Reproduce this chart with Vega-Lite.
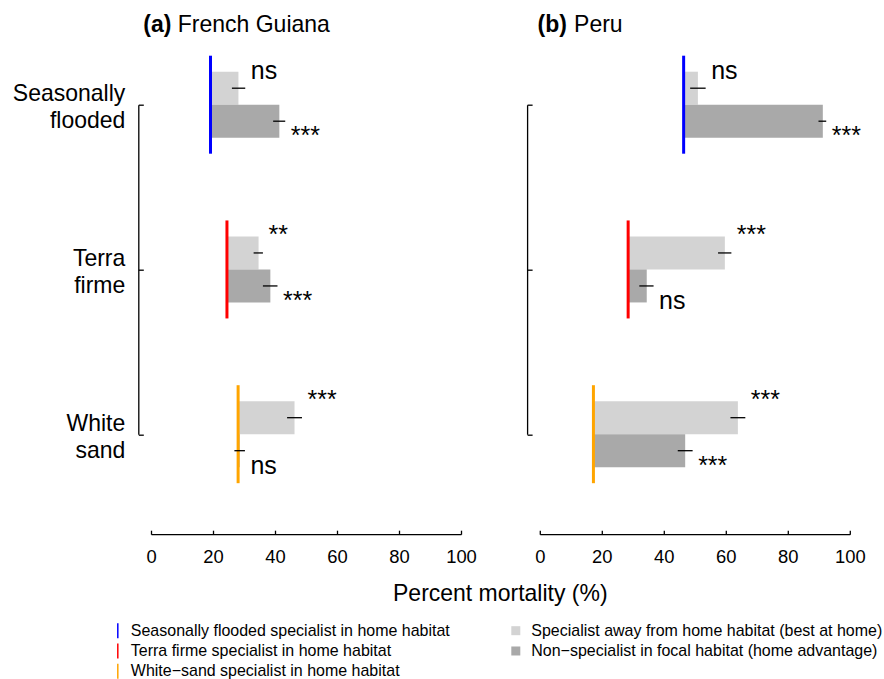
{
  "$schema": "https://vega.github.io/schema/vega-lite/v6.json",
  "background": "white",
  "padding": {"left": 12, "top": 13.7, "right": 0, "bottom": 0},
  "bounds": "flush",
  "spacing": 78.8,
  "datasets": {
    "bars": [
      {"country": "French Guiana", "habitat": "Seasonally flooded", "group": "away", "home": 19.2, "mean": 28.2, "lo": 26.1, "hi": 30.4, "sig": "ns"},
      {"country": "French Guiana", "habitat": "Seasonally flooded", "group": "nonspecialist", "home": 19.2, "mean": 41.4, "lo": 39.4, "hi": 43.3, "sig": "***"},
      {"country": "French Guiana", "habitat": "Terra firme", "group": "away", "home": 24.5, "mean": 34.7, "lo": 33.1, "hi": 36.1, "sig": "**"},
      {"country": "French Guiana", "habitat": "Terra firme", "group": "nonspecialist", "home": 24.5, "mean": 38.5, "lo": 36.1, "hi": 40.8, "sig": "***"},
      {"country": "French Guiana", "habitat": "White sand", "group": "away", "home": 28.1, "mean": 46.3, "lo": 43.9, "hi": 48.7, "sig": "***"},
      {"country": "French Guiana", "habitat": "White sand", "group": "nonspecialist", "home": 28.1, "mean": 28.6, "lo": 26.9, "hi": 30.3, "sig": "ns"},
      {"country": "Peru", "habitat": "Seasonally flooded", "group": "away", "home": 46.4, "mean": 51.0, "lo": 48.5, "hi": 53.5, "sig": "ns"},
      {"country": "Peru", "habitat": "Seasonally flooded", "group": "nonspecialist", "home": 46.4, "mean": 91.3, "lo": 89.9, "hi": 92.4, "sig": "***"},
      {"country": "Peru", "habitat": "Terra firme", "group": "away", "home": 28.5, "mean": 59.7, "lo": 57.5, "hi": 61.8, "sig": "***"},
      {"country": "Peru", "habitat": "Terra firme", "group": "nonspecialist", "home": 28.5, "mean": 34.5, "lo": 32.1, "hi": 36.7, "sig": "ns"},
      {"country": "Peru", "habitat": "White sand", "group": "away", "home": 17.3, "mean": 63.9, "lo": 61.5, "hi": 66.3, "sig": "***"},
      {"country": "Peru", "habitat": "White sand", "group": "nonspecialist", "home": 17.3, "mean": 46.9, "lo": 44.5, "hi": 49.3, "sig": "***"}
    ]
  },
  "hconcat": [
    {
      "width": 310,
      "height": 329.5,
      "title": {"text": "(a)", "fontSize": 23, "fontWeight": "bold", "anchor": "start", "frame": "group", "dx": -7.7, "offset": -23, "baseline": "top", "color": "black"},
      "data": {"name": "bars"},
      "transform": [{"filter": "datum.country === 'French Guiana'"}],
      "resolve": {"axis": {"x": "independent"}},
      "layer": [
        {
          "transform": [{"filter": "datum.group === 'away'"}],
          "mark": {"type": "bar", "height": 33, "yOffset": -16.5, "opacity": 1},
          "encoding": {
            "x": {"field": "home", "type": "quantitative", "scale": {"domain": [0, 100]},
              "axis": {"orient": "bottom", "offset": 100, "values": [0, 20, 40, 60, 80, 100], "tickSize": -4, "labelFontSize": 18.4, "labelBaseline": "alphabetic", "labelPadding": 32, "labelFlush": false, "title": "Percent mortality (%)", "titleFontSize": 23, "titleFontWeight": "normal", "titleX": 348.8, "titleY": 66, "titleAlign": "center", "titleBaseline": "alphabetic", "titleAngle": 0}},
            "x2": {"field": "mean"},
            "y": {"field": "habitat", "type": "nominal", "title": null, "scale": {"type": "point", "padding": 0, "domain": ["Seasonally flooded", "Terra firme", "White sand"]},
              "axis": {"orient": "left", "offset": 12.7, "title": null, "tickSize": -5, "labelFontSize": 23, "labelAlign": "right", "labelBaseline": "middle", "labelLineHeight": 27, "labelPadding": 18.5, "labelOffset": -11, "labelExpr": "split(datum.label, ' ')"}},
            "color": {"field": "group", "type": "nominal", "scale": {"domain": ["away", "nonspecialist"], "range": ["#d3d3d3", "#a9a9a9"]},
              "legend": {"title": null, "orient": "none", "legendX": 356.8, "legendY": 518, "direction": "vertical", "symbolType": "square", "symbolSize": 81, "symbolStrokeWidth": 0, "labelOffset": 7.5, "labelExpr": "datum.label === 'away' ? 'Specialist away from home habitat (best at home)' : 'Non−specialist in focal habitat (home advantage)'"}}
          }
        },
        {
          "transform": [{"filter": "datum.group === 'nonspecialist'"}],
          "mark": {"type": "bar", "height": 33, "yOffset": 16.5, "opacity": 1},
          "encoding": {
            "x": {"field": "home", "type": "quantitative", "axis": null},
            "x2": {"field": "mean"},
            "y": {"field": "habitat", "type": "nominal", "title": null},
            "color": {"field": "group", "type": "nominal"}
          }
        },
        {
          "transform": [{"filter": "datum.group === 'away'"}],
          "mark": {"type": "tick", "size": 98, "thickness": 3, "opacity": 1},
          "encoding": {
            "x": {"field": "home", "type": "quantitative",
              "axis": {"orient": "top", "domain": false, "ticks": false, "labels": false, "grid": false, "title": "French Guiana", "titleFontSize": 23, "titleFontWeight": "normal", "titleX": 26.3, "titleY": -72.8, "titleAlign": "left", "titleBaseline": "alphabetic", "titleAngle": 0}},
            "y": {"field": "habitat", "type": "nominal", "title": null},
            "fill": {"field": "habitat", "type": "nominal", "scale": {"domain": ["Seasonally flooded", "Terra firme", "White sand"], "range": ["#0000ff", "#ff0000", "#ffa500"]},
              "legend": {"title": null, "orient": "none", "legendX": -41.2, "legendY": 518, "direction": "vertical", "symbolType": "M-0.1,-1L0.1,-1L0.1,1L-0.1,1Z", "symbolSize": 225, "symbolStrokeWidth": 0, "labelOffset": 5, "labelExpr": "datum.label === 'White sand' ? 'White−sand specialist in home habitat' : datum.label + ' specialist in home habitat'"}}
          }
        },
        {
          "transform": [{"filter": "datum.group === 'away'"}],
          "mark": {"type": "rule", "strokeWidth": 1.3, "color": "black", "yOffset": -16.5},
          "encoding": {
            "x": {"field": "lo", "type": "quantitative", "axis": null},
            "x2": {"field": "hi"},
            "y": {"field": "habitat", "type": "nominal", "title": null}
          }
        },
        {
          "transform": [{"filter": "datum.group === 'nonspecialist'"}],
          "mark": {"type": "rule", "strokeWidth": 1.3, "color": "black", "yOffset": 16.5},
          "encoding": {
            "x": {"field": "lo", "type": "quantitative", "axis": null},
            "x2": {"field": "hi"},
            "y": {"field": "habitat", "type": "nominal", "title": null}
          }
        },
        {
          "transform": [{"filter": "datum.group === 'away'"}],
          "mark": {"type": "text", "fontSize": 25, "align": "left", "baseline": "alphabetic", "dx": 5.5, "dy": -9.5, "yOffset": -16.5, "color": "black"},
          "encoding": {
            "x": {"field": "hi", "type": "quantitative", "axis": null},
            "y": {"field": "habitat", "type": "nominal", "title": null},
            "text": {"field": "sig"}
          }
        },
        {
          "transform": [{"filter": "datum.group === 'nonspecialist'"}],
          "mark": {"type": "text", "fontSize": 25, "align": "left", "baseline": "alphabetic", "dx": 5.5, "dy": 23.2, "yOffset": 16.5, "color": "black"},
          "encoding": {
            "x": {"field": "hi", "type": "quantitative", "axis": null},
            "y": {"field": "habitat", "type": "nominal", "title": null},
            "text": {"field": "sig"}
          }
        }
      ]
    },
    {
      "width": 310,
      "height": 329.5,
      "title": {"text": "(b)", "fontSize": 23, "fontWeight": "bold", "anchor": "start", "frame": "group", "dx": -2.2, "offset": -23, "baseline": "top", "color": "black"},
      "data": {"name": "bars"},
      "transform": [{"filter": "datum.country === 'Peru'"}],
      "resolve": {"axis": {"x": "independent"}},
      "layer": [
        {
          "transform": [{"filter": "datum.group === 'away'"}],
          "mark": {"type": "bar", "height": 33, "yOffset": -16.5, "opacity": 1},
          "encoding": {
            "x": {"field": "home", "type": "quantitative", "scale": {"domain": [0, 100]},
              "axis": {"orient": "bottom", "offset": 100, "values": [0, 20, 40, 60, 80, 100], "tickSize": -4, "labelFontSize": 18.4, "labelBaseline": "alphabetic", "labelPadding": 32, "labelFlush": false, "title": null}},
            "x2": {"field": "mean"},
            "y": {"field": "habitat", "type": "nominal", "title": null, "scale": {"type": "point", "padding": 0, "domain": ["Seasonally flooded", "Terra firme", "White sand"]},
              "axis": {"orient": "left", "offset": 12.7, "title": null, "tickSize": -5, "labels": false}},
            "color": {"field": "group", "type": "nominal"}
          }
        },
        {
          "transform": [{"filter": "datum.group === 'nonspecialist'"}],
          "mark": {"type": "bar", "height": 33, "yOffset": 16.5, "opacity": 1},
          "encoding": {
            "x": {"field": "home", "type": "quantitative", "axis": null},
            "x2": {"field": "mean"},
            "y": {"field": "habitat", "type": "nominal", "title": null},
            "color": {"field": "group", "type": "nominal"}
          }
        },
        {
          "transform": [{"filter": "datum.group === 'away'"}],
          "mark": {"type": "tick", "size": 98, "thickness": 3, "opacity": 1},
          "encoding": {
            "x": {"field": "home", "type": "quantitative",
              "axis": {"orient": "top", "domain": false, "ticks": false, "labels": false, "grid": false, "title": "Peru", "titleFontSize": 23, "titleFontWeight": "normal", "titleX": 33.8, "titleY": -72.8, "titleAlign": "left", "titleBaseline": "alphabetic", "titleAngle": 0}},
            "y": {"field": "habitat", "type": "nominal", "title": null},
            "fill": {"field": "habitat", "type": "nominal"}
          }
        },
        {
          "transform": [{"filter": "datum.group === 'away'"}],
          "mark": {"type": "rule", "strokeWidth": 1.3, "color": "black", "yOffset": -16.5},
          "encoding": {
            "x": {"field": "lo", "type": "quantitative", "axis": null},
            "x2": {"field": "hi"},
            "y": {"field": "habitat", "type": "nominal", "title": null}
          }
        },
        {
          "transform": [{"filter": "datum.group === 'nonspecialist'"}],
          "mark": {"type": "rule", "strokeWidth": 1.3, "color": "black", "yOffset": 16.5},
          "encoding": {
            "x": {"field": "lo", "type": "quantitative", "axis": null},
            "x2": {"field": "hi"},
            "y": {"field": "habitat", "type": "nominal", "title": null}
          }
        },
        {
          "transform": [{"filter": "datum.group === 'away'"}],
          "mark": {"type": "text", "fontSize": 25, "align": "left", "baseline": "alphabetic", "dx": 5.5, "dy": -9.5, "yOffset": -16.5, "color": "black"},
          "encoding": {
            "x": {"field": "hi", "type": "quantitative", "axis": null},
            "y": {"field": "habitat", "type": "nominal", "title": null},
            "text": {"field": "sig"}
          }
        },
        {
          "transform": [{"filter": "datum.group === 'nonspecialist'"}],
          "mark": {"type": "text", "fontSize": 25, "align": "left", "baseline": "alphabetic", "dx": 5.5, "dy": 23.2, "yOffset": 16.5, "color": "black"},
          "encoding": {
            "x": {"field": "hi", "type": "quantitative", "axis": null},
            "y": {"field": "habitat", "type": "nominal", "title": null},
            "text": {"field": "sig"}
          }
        }
      ]
    }
  ],
  "config": {
    "font": "Liberation Sans",
    "view": {"stroke": null},
    "axis": {"grid": false, "domainColor": "black", "tickColor": "black", "labelColor": "black", "titleColor": "black", "domainWidth": 1.3, "tickWidth": 1.3, "labelFont": "Liberation Sans", "titleFont": "Liberation Sans"},
    "legend": {"labelFontSize": 16, "labelColor": "black", "labelLimit": 600, "padding": 0, "rowPadding": 4.3, "labelFont": "Liberation Sans"},
    "title": {"font": "Liberation Sans"},
    "text": {"font": "Liberation Sans"}
  }
}
